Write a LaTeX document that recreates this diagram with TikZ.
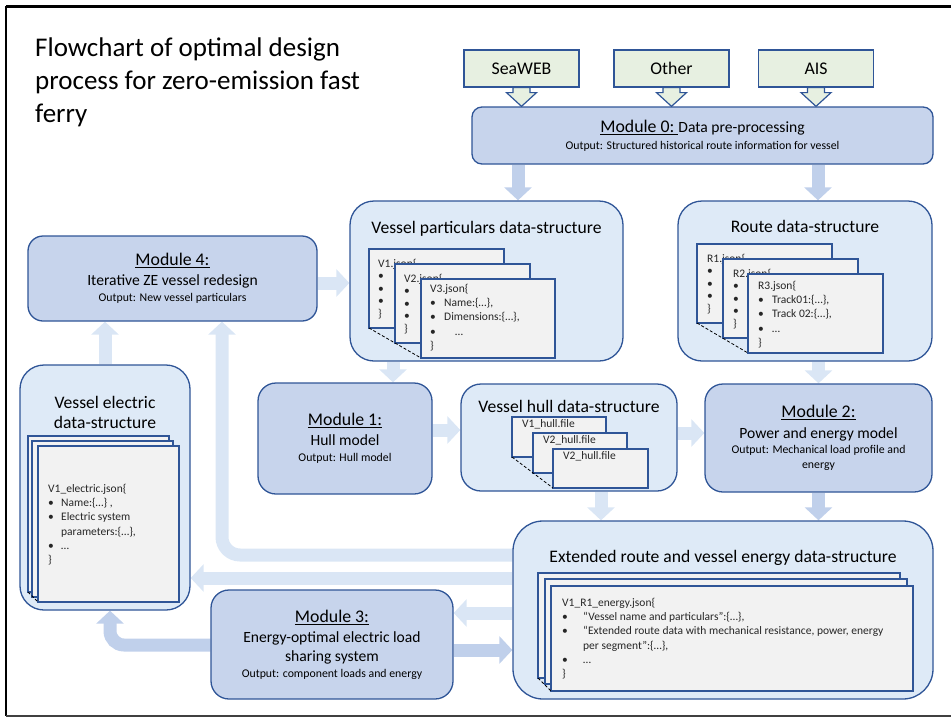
\documentclass[tikz,border=0pt]{standalone}
\usepackage{fontspec}
\setmainfont{Carlito}
\usepackage{tikz}
\usetikzlibrary{positioning,calc,arrows.meta}
\definecolor{edge}{RGB}{47,85,151}
\definecolor{modfill}{RGB}{199,212,236}
\definecolor{dsfill}{RGB}{222,234,247}
\definecolor{cardfill}{RGB}{242,242,242}
\definecolor{srcfill}{RGB}{231,240,225}
\definecolor{arrlight}{RGB}{218,230,245}
\definecolor{arrmed}{RGB}{192,208,235}
\pgfdeclarelayer{bg}
\pgfsetlayers{bg,main}
\tikzstyle{module} = [draw=edge, fill=modfill, line width=1.3pt, rectangle, rounded corners=18pt,
    inner sep=0pt, align=center, font=\fontsize{11.8}{16}\selectfont]
\tikzstyle{dstruct} = [draw=edge, fill=dsfill, line width=1.3pt, rectangle, rounded corners=24pt, inner sep=0pt]
\tikzstyle{dstitle} = [inner sep=0pt, align=center, font=\fontsize{17.6}{20}\selectfont]
\tikzstyle{source} = [draw=edge, fill=srcfill, line width=1.2pt, minimum width=115pt, minimum height=37pt,
    inner sep=0pt, font=\fontsize{17.8}{20}\selectfont]
\tikzstyle{srcarr} = [draw=edge, fill=srcfill, line width=1.2pt, line join=miter]
\tikzstyle{card} = [draw=edge, fill=cardfill, line width=1.2pt, anchor=north west, inner sep=0pt, outer sep=0pt]
\tikzstyle{cardtxt} = [anchor=north west, align=left, inner sep=0pt, text=black!85,
    font=\fontsize{11.5}{14.2}\selectfont]
\tikzstyle{backtxt} = [cardtxt, font=\fontsize{11.5}{12.4}\selectfont]
\tikzstyle{stackline} = [dashed, dash pattern=on 3pt off 2pt, line width=0.8pt]
\tikzstyle{fat} = [line width=13pt, -{Triangle[width=27pt,length=13pt]}]
\tikzstyle{lightarr} = [fat, draw=arrlight]
\tikzstyle{medarr} = [fat, draw=arrmed]
\newcommand{\bul}[1][14pt]{\makebox[#1][l]{•}}
\newcommand{\modhead}[1]{{\fontsize{17.8}{16}\selectfont\underline{#1}}}
\newcommand{\modsub}[1]{{\fontsize{15.6}{16}\selectfont #1}}

\begin{document}
\begin{tikzpicture}[x=1pt, y=-1pt]
    \useasboundingbox (0,0) rectangle (951,718);
    % frame of the slide
    \draw[line width=3pt] (6,6) -- (951,6);
    \draw[line width=2.5pt] (6,6) -- (6,716);
    \draw[line width=2pt, black!75] (6,716) -- (951,716);

    \node[anchor=north west, align=left, inner sep=0pt, font=\fontsize{27}{33}\selectfont]
        (title) at (35,38) {Flowchart of optimal design\\process for zero-emission fast\\ferry};

    % We start by placing the data sources and module 0
    \node[source] (sea) at (521.5,68.5) {SeaWEB};
    \node[source] (oth) at (671.5,68.5) {Other};
    \node[source] (ais) at (816,68.5) {AIS};
    \node[module, rounded corners=10pt, minimum width=461pt, minimum height=57pt] (mod0) at (702.5,135.5)
        {\modhead{Module 0:\ }\modsub{Data pre-processing}\\[1pt]Output: Structured historical route information for vessel};
    \foreach \s in {sea,oth,ais}
        \filldraw[srcarr] ([shift={(-8.5,0)}]\s.south) -- ++(0,5) -- ++(-6.5,0) -- (\s.south |- mod0.north)
            -- ([shift={(15,5)}]\s.south) -- ([shift={(8.5,5)}]\s.south) -- ([shift={(8.5,0)}]\s.south) -- cycle;

    % data structures of the upper row
    \node[dstruct, minimum width=273pt, minimum height=160pt] (vpds) at (486.5,281) {};
    \node[dstitle, below=20.4pt of vpds.north] (vpdsT) {Vessel particulars data-structure};
    \node[card, minimum width=135pt, minimum height=79pt] (v1) at (369,249) {};
    \node[backtxt] (v1t) at ([shift={(9,10)}]v1.north west) {V1.json\{\\\bul\\\bul\\\bul\\\}};
    \node[card, minimum width=135pt, minimum height=79pt] (v2) at ([shift={(26,15)}]v1.north west) {};
    \node[backtxt] (v2t) at ([shift={(9,10)}]v2.north west) {V2.json\{\\\bul\\\bul\\\bul\\\}};
    \node[card, minimum width=134pt, minimum height=79pt] (v3) at ([shift={(26,15)}]v2.north west) {};
    \node[cardtxt] (v3t) at ([shift={(9,5)}]v3.north west)
        {V3.json\{\\\bul Name:\{…\},\\\bul Dimensions:\{…\},\\\bul\hspace*{11pt}…\\\}};
    \draw[stackline] (v1.south west) -- (v3.south west);

    \node[dstruct, minimum width=254pt, minimum height=160pt] (route) at (805,281) {};
    \node[dstitle, below=19.4pt of route.north] (routeT) {Route data-structure};
    \node[card, minimum width=135pt, minimum height=79pt] (r1) at (697,244) {};
    \node[backtxt] (r1t) at ([shift={(10,10)}]r1.north west) {R1.json\{\\\bul\\\bul\\\bul\\\}};
    \node[card, minimum width=135pt, minimum height=79pt] (r2) at ([shift={(26,15)}]r1.north west) {};
    \node[backtxt] (r2t) at ([shift={(10,10)}]r2.north west) {R2.json\{\\\bul\\\bul\\\bul\\\}};
    \node[card, minimum width=135pt, minimum height=79pt] (r3) at ([shift={(25,15)}]r2.north west) {};
    \node[cardtxt] (r3t) at ([shift={(10,7)}]r3.north west)
        {R3.json\{\\\bul Track01:\{…\},\\\bul Track 02:\{…\},\\\bul …\\\}};
    \draw[stackline] (r1.south west) -- (r3.south west);

    % modules 4, 1 and 2
    \node[module, rounded corners=15pt, minimum width=289pt, minimum height=85pt] (mod4) at (172.5,278.5)
        {\modhead{Module 4:}\\[4pt]\modsub{Iterative ZE vessel redesign}\\Output: New vessel particulars};
    \node[module, minimum width=174pt, minimum height=111pt] (mod1) at (345,438.5)
        {\modhead{Module 1:}\\[4pt]\modsub{Hull model}\\Output: Hull model};
    \node[module, minimum width=227pt, minimum height=108pt] (mod2) at (818.5,438)
        {\modhead{Module 2:}\\[5pt]\modsub{Power and energy model}\\[-1pt]Output: Mechanical load profile and\\[-1pt]energy};

    \node[dstruct, rounded corners=20pt, minimum width=216pt, minimum height=107pt] (hull) at (569,437.5) {};
    \node[dstitle, below=16.4pt of hull.north] (hullT) {Vessel hull data-structure};
    \node[card, minimum width=94pt, minimum height=40pt] (h1) at (512,417) {};
    \node[cardtxt] (h1t) at ([shift={(10,2)}]h1.north west) {V1\_hull.file};
    \node[card, minimum width=94pt, minimum height=40pt] (h2) at ([shift={(21,16)}]h1.north west) {};
    \node[cardtxt] (h2t) at ([shift={(10,2)}]h2.north west) {V2\_hull.file};
    \node[card, minimum width=95pt, minimum height=39pt] (h3) at ([shift={(20,16)}]h2.north west) {};
    \node[cardtxt] (h3t) at ([shift={(10,2)}]h3.north west) {V2\_hull.file};
    \draw[stackline] (h1.south west) -- (h3.south west);

    % vessel electric data-structure
    \node[dstruct, minimum width=170pt, minimum height=245pt] (vel) at (105,487.5) {};
    \node[dstitle, below=31.4pt of vel.north] (velT) {Vessel electric\\data-structure};
    \node[card, minimum width=141pt, minimum height=156pt] (e1) at (28,436) {};
    \node[card, minimum width=141pt, minimum height=156pt] (e2) at ([shift={(4,5)}]e1.north west) {};
    \node[card, minimum width=141pt, minimum height=156pt] (e3) at ([shift={(6,5)}]e2.north west) {};
    \node[cardtxt] (e3t) at ([shift={(10,38)}]e3.north west)
        {V1\_electric.json\{\\\bul[13pt]Name:\{…\} ,\\\bul[13pt]Electric system\\\hspace*{13pt}parameters:\{…\},\\\bul[13pt]…\\\}};
    \draw[stackline] (e1.south west) -- (e3.south west);

    % extended data-structure and module 3
    \node[dstruct, rounded corners=30pt, minimum width=420pt, minimum height=178pt] (ext) at (723,610) {};
    \node[dstitle, below=29.4pt of ext.north] (extT) {Extended route and vessel energy data-structure};
    \node[card, minimum width=362pt, minimum height=105pt] (x1) at (538,573) {};
    \node[card, minimum width=362pt, minimum height=105pt] (x2) at ([shift={(7,6)}]x1.north west) {};
    \node[card, minimum width=362pt, minimum height=105pt] (x3) at ([shift={(6,7)}]x2.north west) {};
    \node[cardtxt] (x3t) at ([shift={(11,12)}]x3.north west)
        {V1\_R1\_energy.json\{\\\bul[21pt]“Vessel name and particulars”:\{…\},\\
         \bul[21pt]“Extended route data with mechanical resistance, power, energy\\
         \hspace*{21pt}per segment”:\{…\},\\\bul[21pt]…\\\}};
    \draw[stackline] (x1.south west) -- (x3.south west);

    \node[module, minimum width=242pt, minimum height=109pt] (mod3) at (332,644.5)
        {\modhead{Module 3:}\\[4pt]\modsub{Energy-optimal electric load}\\[3pt]\modsub{sharing system}\\Output: component loads and energy};

    % Once the nodes are placed, the block arrows go behind them
    \coordinate (m0l) at ([shift={(-184.5,0)}]mod0.south);
    \coordinate (m0r) at ([shift={(115.5,0)}]mod0.south);
    \coordinate (m4e) at ([shift={(0,4.5)}]mod4.east);
    \coordinate (vpb) at ([shift={(-93.5,0)}]vpds.south);
    \coordinate (m1e) at ([shift={(0,-8.5)}]mod1.east);
    \coordinate (hue) at ([shift={(0,-4.5)}]hull.east);
    \coordinate (hub) at ([shift={(32,0)}]hull.south);
    \coordinate (ex4) at ([shift={(0,-55)}]ext.west);
    \coordinate (m4b) at ([shift={(49.5,0)}]mod4.south);
    \coordinate (exv) at ([shift={(0,-32)}]ext.west);
    \coordinate (ex3) at ([shift={(0,3)}]ext.west);
    \coordinate (m3e) at ([shift={(0,5.5)}]mod3.east);
    \coordinate (m3w) at ([shift={(0,0.5)}]mod3.west);
    \coordinate (veb) at ([shift={(5,0)}]vel.south);
    \begin{pgfonlayer}{bg}
    \draw[medarr] (m0l) -- (m0l |- vpds.north);
    \draw[medarr] (m0r) -- (m0r |- route.north);
    \draw[lightarr] (m4e) -- (m4e -| vpds.west);
    \draw[lightarr] (vpb) -- (vpb |- mod1.north);
    \draw[lightarr] (route.south -| mod2.north) -- (mod2.north);
    \draw[lightarr] (m1e) -- (m1e -| hull.west);
    \draw[lightarr] (hue) -- (hue -| mod2.west);
    \draw[lightarr] (hub) -- (hub |- ext.north);
    \draw[medarr] (mod2.south) -- (mod2.south |- ext.north);
    \draw[lightarr, rounded corners=18pt] (ex4) -| (m4b);
    \draw[lightarr] (exv) -- (exv -| vel.east);
    \draw[lightarr] (vel.north) -- (vel.north |- mod4.south);
    \draw[lightarr] (ex3) -- (ex3 -| mod3.east);
    \draw[medarr] (m3e) -- (m3e -| ext.west);
    \draw[medarr, rounded corners=14pt] (m3w) -| (veb);
    \end{pgfonlayer}
\end{tikzpicture}
\end{document}
